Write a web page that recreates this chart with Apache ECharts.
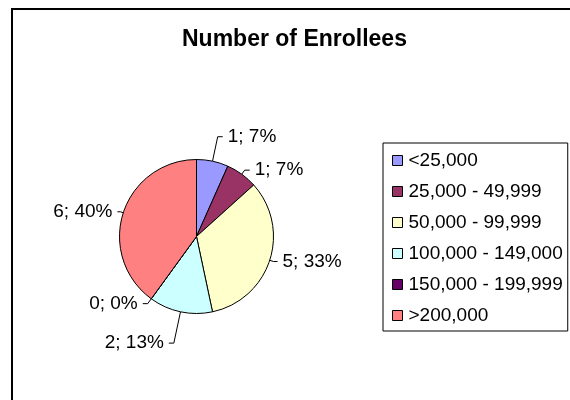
<!DOCTYPE html>
<html>
<head>
<meta charset="utf-8">
<script src="https://cdn.jsdelivr.net/npm/echarts@6/dist/echarts.min.js"></script>
<style>
  html, body { margin: 0; padding: 0; background: #fff; }
  #chart { width: 570px; height: 400px; }
</style>
</head>
<body>
<div id="chart"></div>
<script>
const title = 'Number of Enrollees';
const categories = ['<25,000', '25,000 - 49,999', '50,000 - 99,999', '100,000 - 149,000', '150,000 - 199,999', '>200,000'];
const values = [1, 1, 5, 2, 0, 6];
const palette = ['#9999FF', '#993366', '#FFFFCC', '#CCFFFF', '#660066', '#FF8080'];
// leader-line lengths per slice (styling only)
const leaderLen = [25, 5, 4, 32, 6, 3];
const leaderLen2 = [5, 5, 4, 5, 5, 3];

const chart = echarts.init(document.getElementById('chart'), null, { renderer: 'canvas' });
const font = '"Liberation Sans", Arial, sans-serif';

chart.setOption({
  animation: false,
  backgroundColor: '#fff',
  color: palette,
  textStyle: { fontFamily: font },
  graphic: [{
    type: 'rect',
    shape: { x: 12, y: 9, width: 620, height: 440 },
    style: { fill: 'none', stroke: '#000', lineWidth: 2 },
    silent: true, z: -1
  }],
  title: {
    text: title,
    left: 177,
    top: 23,
    textStyle: { fontFamily: font, fontSize: 23, fontWeight: 'bold', color: '#000' }
  },
  legend: {
    orient: 'vertical',
    left: 383,
    top: 143,
    data: categories,
    icon: 'rect',
    itemWidth: 10,
    itemHeight: 10,
    itemGap: 12,
    padding: [8, 5, 6, 9],
    borderColor: '#000',
    borderWidth: 1,
    selectedMode: false,
    itemStyle: { borderColor: '#000', borderWidth: 1 },
    textStyle: { fontFamily: font, fontSize: 19, lineHeight: 19, color: '#000', padding: [0, 0, 0, 1] }
  },
  series: [{
    type: 'pie',
    center: [196.5, 236.5],
    radius: 77,
    startAngle: 90,
    clockwise: true,
    percentPrecision: 0,
    avoidLabelOverlap: false,
    itemStyle: { borderColor: '#000', borderWidth: 1 },
    label: {
      show: true,
      position: 'outside',
      formatter: '{c}; {d}%',
      fontFamily: font,
      fontSize: 19,
      color: '#000'
    },
    labelLine: {
      show: true,
      length: 10,
      length2: 5,
      lineStyle: { color: '#000', width: 1 }
    },
    emphasis: { disabled: true },
    data: categories.map((c, i) => ({
      name: c,
      value: values[i],
      labelLine: { length: leaderLen[i], length2: leaderLen2[i] }
    }))
  }]
});
</script>
</body>
</html>
